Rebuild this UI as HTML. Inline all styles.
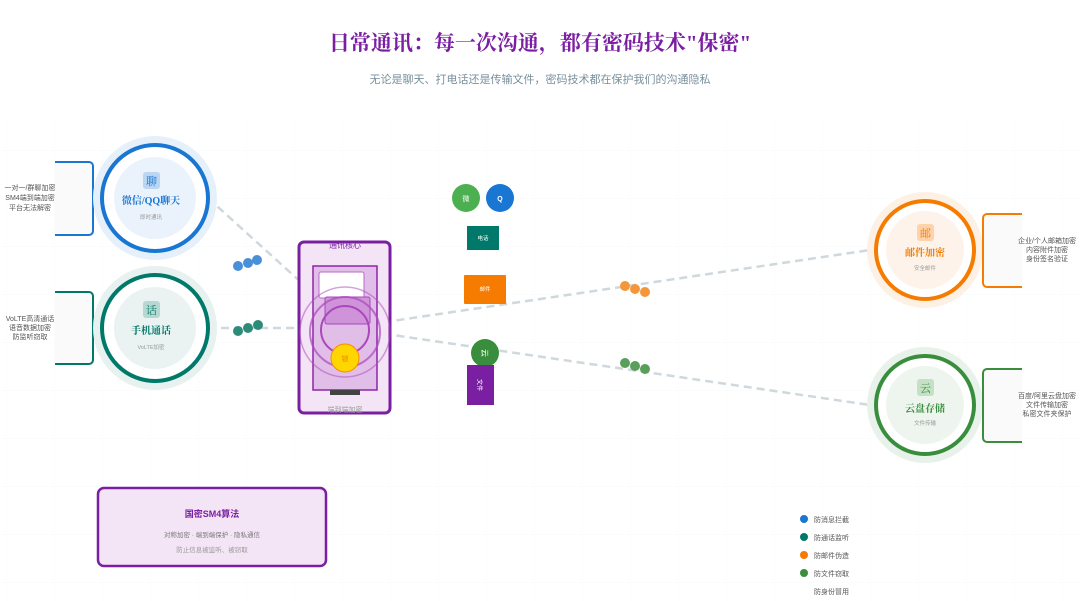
<!DOCTYPE html>
<html><head><meta charset="utf-8"><style>
html,body{margin:0;padding:0;background:#fff;}
svg{display:block;font-family:"Liberation Sans","Noto Sans CJK SC",sans-serif;}
.sf{font-family:"Liberation Serif","Noto Serif CJK SC",serif;}
</style></head><body>
<svg width="1080" height="601" viewBox="0 0 1080 601" xmlns="http://www.w3.org/2000/svg">
<defs><pattern id="g" width="48" height="48" patternUnits="userSpaceOnUse" x="7" y="7"><path d="M48 0V48H0" fill="none" stroke="#f7f8f9" stroke-width="1"/></pattern></defs>
<rect width="1080" height="601" fill="#fff"/>
<rect x="0" y="120" width="1080" height="481" fill="url(#g)"/>
<text class="sf" x="540" y="50" text-anchor="middle" font-size="21" font-weight="bold" fill="#7b1fa2">日常通讯：每一次沟通，都有密码技术"保密"</text>
<text x="540" y="83" text-anchor="middle" font-size="11" fill="#78909c">无论是聊天、打电话还是传输文件，密码技术都在保护我们的沟通隐私</text>

<g stroke="#cfd8dc" stroke-width="2.5" stroke-dasharray="8 5" fill="none">
<line x1="208" y1="198" x2="345" y2="322"/>
<line x1="208" y1="328" x2="345" y2="328"/>
<line x1="345" y1="328" x2="870" y2="250"/>
<line x1="345" y1="328" x2="870" y2="405"/>
</g>
<g fill="#4a90d9"><circle cx="238" cy="266" r="5"/><circle cx="248" cy="263" r="5"/><circle cx="257" cy="260" r="5"/></g>
<g fill="#2e8b7a"><circle cx="238" cy="331" r="5"/><circle cx="248" cy="328" r="5"/><circle cx="258" cy="325" r="5"/></g>
<g fill="#f5963a"><circle cx="625" cy="286" r="5"/><circle cx="635" cy="289" r="5"/><circle cx="645" cy="292" r="5"/></g>
<g fill="#5a9e5c"><circle cx="625" cy="363" r="5"/><circle cx="635" cy="366" r="5"/><circle cx="645" cy="369" r="5"/></g>

<path d="M55 162H89a4 4 0 0 1 4 4V231a4 4 0 0 1-4 4H55" fill="#fafafa" stroke="#1976d2" stroke-width="2"/>
<g font-size="7" fill="#555" text-anchor="middle"><text x="30" y="190">一对一/群聊加密</text><text x="30" y="200">SM4端到端加密</text><text x="30" y="210">平台无法解密</text></g>
<path d="M55 292H89a4 4 0 0 1 4 4V360a4 4 0 0 1-4 4H55" fill="#fafafa" stroke="#00796b" stroke-width="2"/>
<g font-size="7" fill="#555" text-anchor="middle"><text x="30" y="321">VoLTE高清通话</text><text x="30" y="330">语音数据加密</text><text x="30" y="339">防监听窃取</text></g>

<circle cx="155" cy="198" r="62" fill="#e6f0fa"/>
<circle cx="155" cy="198" r="53" fill="#fff" stroke="#1976d2" stroke-width="4"/>
<circle cx="155" cy="198" r="41" fill="#eaf2fb"/>
<rect x="143" y="172" width="17" height="17" rx="3" fill="#bbd6f2"/>
<text class="sf" x="151.5" y="185" text-anchor="middle" font-size="11" fill="#1976d2">聊</text>
<text class="sf" x="151" y="204" text-anchor="middle" font-size="10" font-weight="bold" fill="#1976d2">微信/QQ聊天</text>
<text x="151" y="219" text-anchor="middle" font-size="5.5" fill="#999">即时通讯</text>

<circle cx="155" cy="328" r="62" fill="#e7f1ef"/>
<circle cx="155" cy="328" r="53" fill="#fff" stroke="#00796b" stroke-width="4"/>
<circle cx="155" cy="328" r="41" fill="#eaf3f1"/>
<rect x="143" y="301" width="17" height="17" rx="3" fill="#b5d9d2"/>
<text class="sf" x="151.5" y="314" text-anchor="middle" font-size="11" fill="#00796b">话</text>
<text class="sf" x="151" y="334" text-anchor="middle" font-size="10" font-weight="bold" fill="#00796b">手机通话</text>
<text x="151" y="349" text-anchor="middle" font-size="5.5" fill="#999">VoLTE加密</text>

<circle cx="925" cy="250" r="58" fill="#fdf0e5"/>
<circle cx="925" cy="250" r="49" fill="#fff" stroke="#f57c00" stroke-width="4"/>
<circle cx="925" cy="250" r="39" fill="#fef3ea"/>
<rect x="917" y="224" width="17" height="17" rx="3" fill="#fcd3aa"/>
<text class="sf" x="925.5" y="237" text-anchor="middle" font-size="11" fill="#f57c00">邮</text>
<text class="sf" x="925" y="256" text-anchor="middle" font-size="10" font-weight="bold" fill="#f57c00">邮件加密</text>
<text x="925" y="270" text-anchor="middle" font-size="5.5" fill="#999">安全邮件</text>
<path d="M1022 214H987a4 4 0 0 0-4 4V283a4 4 0 0 0 4 4H1022" fill="#fafafa" stroke="#f57c00" stroke-width="2"/>
<g font-size="7" fill="#555" text-anchor="middle"><text x="1047" y="243">企业/个人邮箱加密</text><text x="1047" y="252">内容附件加密</text><text x="1047" y="261">身份签名验证</text></g>

<circle cx="925" cy="405" r="58" fill="#e9f2ea"/>
<circle cx="925" cy="405" r="49" fill="#fff" stroke="#388e3c" stroke-width="4"/>
<circle cx="925" cy="405" r="39" fill="#edf5ee"/>
<rect x="917" y="379" width="17" height="17" rx="3" fill="#c4e0c5"/>
<text class="sf" x="925.5" y="392" text-anchor="middle" font-size="11" fill="#388e3c">云</text>
<text class="sf" x="925" y="412" text-anchor="middle" font-size="10" font-weight="bold" fill="#388e3c">云盘存储</text>
<text x="925" y="425" text-anchor="middle" font-size="5.5" fill="#999">文件传输</text>
<path d="M1022 369H987a4 4 0 0 0-4 4V438a4 4 0 0 0 4 4H1022" fill="#fafafa" stroke="#388e3c" stroke-width="2"/>
<g font-size="7" fill="#555" text-anchor="middle"><text x="1047" y="398">百度/阿里云盘加密</text><text x="1047" y="407">文件传输加密</text><text x="1047" y="416">私密文件夹保护</text></g>

<rect x="299" y="242" width="91" height="171" rx="5" fill="#f3e5f5" stroke="#7b1fa2" stroke-width="3"/>
<text x="345" y="248" text-anchor="middle" font-size="8" fill="#7b1fa2">通讯核心</text>
<rect x="313" y="266" width="64" height="124" fill="#e1bee7" stroke="#8e24aa" stroke-width="1.5"/>
<rect x="319" y="272" width="45" height="26" rx="2" fill="#fff" stroke="#ba68c8" stroke-width="1"/>
<rect x="325" y="297" width="45" height="27" rx="2" fill="#ce93d8" stroke="#ab47bc" stroke-width="1"/>
<g fill="none" stroke="#ab47bc"><circle cx="345" cy="332" r="45" stroke-width="1.5" opacity="0.5"/><circle cx="345" cy="332" r="35" stroke-width="2" opacity="0.7"/><circle cx="345" cy="330" r="24" stroke-width="2"/></g>
<circle cx="345" cy="358" r="14" fill="#ffd600" stroke="#fb8c00" stroke-width="1"/>
<text x="345" y="361" text-anchor="middle" font-size="7" fill="#f57c00">锁</text>
<rect x="330" y="390" width="30" height="5" fill="#444"/>
<text x="345" y="412" text-anchor="middle" font-size="7" fill="#999">端到端加密</text>

<circle cx="466" cy="198" r="14" fill="#4caf50"/><text x="466" y="201" text-anchor="middle" font-size="7" fill="#fff">微</text>
<circle cx="500" cy="198" r="14" fill="#1976d2"/><text x="500" y="201" text-anchor="middle" font-size="7" font-weight="bold" fill="#fff">Q</text>
<rect x="467" y="226" width="32" height="24" fill="#00796b"/><text x="483" y="240" text-anchor="middle" font-size="5.5" fill="#fff">电话</text>
<rect x="464" y="275" width="42" height="29" rx="1" fill="#f57c00"/><text x="485" y="291" text-anchor="middle" font-size="5.5" fill="#fff">邮件</text>
<circle cx="485" cy="353" r="14" fill="#388e3c"/><text x="485" y="356" text-anchor="middle" font-size="8" fill="#fff" transform="rotate(90 485 353)">云</text>
<rect x="467" y="365" width="27" height="40" fill="#7b1fa2"/><text x="480.5" y="388" text-anchor="middle" font-size="6" fill="#fff" transform="rotate(90 480.5 385)">文件</text>

<rect x="98" y="488" width="228" height="78" rx="6" fill="#f3e5f5" stroke="#7b1fa2" stroke-width="2.5"/>
<text x="212" y="517" text-anchor="middle" font-size="9" font-weight="bold" fill="#7b1fa2">国密SM4算法</text>
<text x="212" y="537" text-anchor="middle" font-size="6.5" fill="#777">对称加密 · 端到端保护 · 隐私通信</text>
<text x="212" y="552" text-anchor="middle" font-size="6.5" fill="#999">防止信息被监听、被窃取</text>

<circle cx="804" cy="519" r="4" fill="#1976d2"/><text x="814" y="522" font-size="7" fill="#555">防消息拦截</text>
<circle cx="804" cy="537" r="4" fill="#00796b"/><text x="814" y="540" font-size="7" fill="#555">防通话监听</text>
<circle cx="804" cy="555" r="4" fill="#f57c00"/><text x="814" y="558" font-size="7" fill="#555">防邮件伪造</text>
<circle cx="804" cy="573" r="4" fill="#388e3c"/><text x="814" y="576" font-size="7" fill="#555">防文件窃取</text>
<text x="814" y="594" font-size="7" fill="#555">防身份冒用</text>
</svg>
</body></html>
